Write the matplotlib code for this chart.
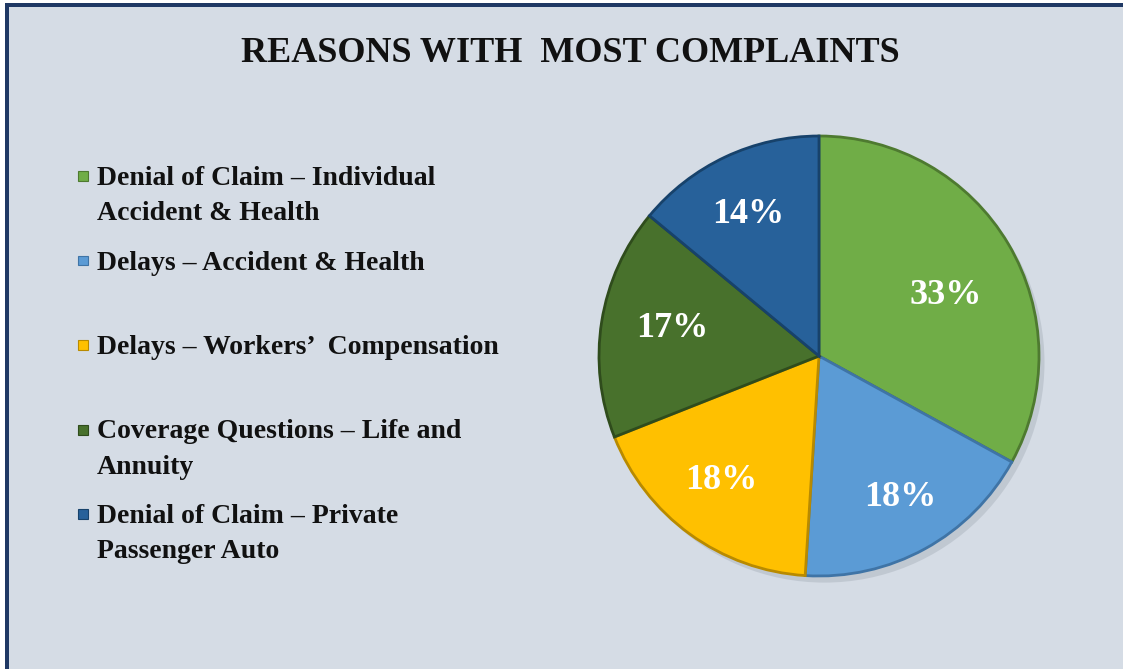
import numpy as np
import matplotlib.pyplot as plt
from matplotlib.patches import Rectangle, Circle

# data
reasons = [
    "Denial of Claim \u2013 Individual\nAccident & Health",
    "Delays \u2013 Accident & Health",
    "Delays \u2013 Workers\u2019  Compensation",
    "Coverage Questions \u2013 Life and\nAnnuity",
    "Denial of Claim \u2013 Private\nPassenger Auto",
]
shares = [33, 18, 18, 17, 14]
colors = ["#70AD47", "#5B9BD5", "#FFC000", "#48712C", "#27619A"]
edges = ["#4E7A30", "#3F74A6", "#B88A00", "#2F4C1C", "#17426B"]

# where each % label sits inside its slice (fraction of radius, angle nudge in degrees)
label_dist = [0.64, 0.74, 0.72, 0.68, 0.72]
label_nudge = [-5, 1, -2, -1.5, 1.5]

W, H = 1123, 669
BG = "#D5DCE5"
NAVY = "#1F3864"
FONT = "Liberation Serif"

fig = plt.figure(figsize=(W / 100, H / 100), dpi=100, facecolor="white")

def fx(x):
    return x / W

def fy(y):
    return 1 - y / H

# background panel + navy border (top and left)
fig.add_artist(Rectangle((fx(5), 0), 1 - fx(5), fy(3), transform=fig.transFigure,
                         facecolor=BG, edgecolor="none", zorder=0))
fig.add_artist(Rectangle((fx(5), fy(7)), 1 - fx(5), fy(3) - fy(7), transform=fig.transFigure,
                         facecolor=NAVY, edgecolor="none", zorder=1))
fig.add_artist(Rectangle((fx(5), 0), fx(4), fy(3), transform=fig.transFigure,
                         facecolor=NAVY, edgecolor="none", zorder=1))

# title
fig.text(fx(570), fy(62), "REASONS WITH  MOST COMPLAINTS", ha="center", va="baseline",
         fontsize=26, fontweight="bold", family=FONT, color="#111111")

# pie
cx, cy, r = 819, 356, 220
ax = fig.add_axes([fx(cx - r), fy(cy + r), fx(2 * r), fy(cy - r) - fy(cy + r)])
shadow = Circle((0.025, -0.03), 1.0, facecolor="#9AA3AE", alpha=0.35, edgecolor="none", zorder=0)
shadow.set_clip_on(False)
ax.add_patch(shadow)
wedges, texts, autotexts = ax.pie(
    shares, colors=colors, startangle=90, counterclock=False,
    autopct="%d%%", pctdistance=0.7,
    wedgeprops=dict(linewidth=2, zorder=2),
    textprops=dict(color="white", fontsize=26, fontweight="bold", family=FONT),
)
for w, ec, t, d, nd in zip(wedges, edges, autotexts, label_dist, label_nudge):
    w.set_edgecolor(ec)
    w.set_clip_on(False)
    mid = np.deg2rad((w.theta1 + w.theta2) / 2 + nd)
    t.set_position((d * np.cos(mid), d * np.sin(mid)))
ax.set_xlim(-1.0, 1.0)
ax.set_ylim(-1.0, 1.0)
ax.set_aspect("equal")
ax.axis("off")

# legend drawn by hand, items top-aligned like the original
first_baseline = 185
step = 84.5
line_gap = 35
for i, (label, col) in enumerate(zip(reasons, colors)):
    base = first_baseline + i * step
    fig.add_artist(Rectangle((fx(78), fy(base - 4)), fx(10), fy(base - 14) - fy(base - 4),
                             transform=fig.transFigure, facecolor=col,
                             edgecolor=edges[i], linewidth=0.8))
    for j, line in enumerate(label.split("\n")):
        fig.text(fx(97), fy(base + j * line_gap), line, ha="left", va="baseline",
                 fontsize=20, fontweight="bold", family=FONT, color="#111111")

plt.savefig("out.png", dpi=100, facecolor=fig.get_facecolor())
